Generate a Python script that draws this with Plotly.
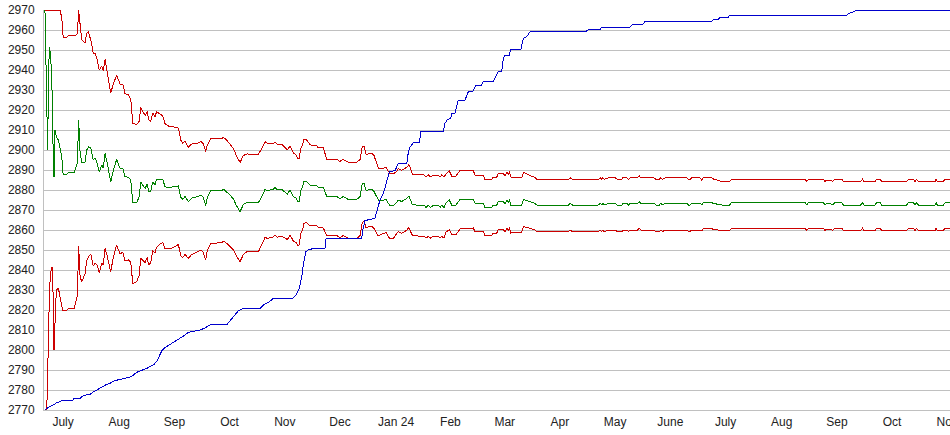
import pandas as pd
import plotly.graph_objects as go

# ---- data (days since 2023-07-01) ----
band_day = [5.5, 5.8, 6.5, 7.0, 7.5, 8.0, 8.7, 9.4, 9.9, 10.5, 11.0, 11.8, 12.9, 13.8, 14.8, 15.3, 15.6,
            17.5, 19.3, 21.6, 23.4, 24.1, 24.9, 25.8, 27.6, 28.6, 29.5, 30.8, 32.2, 33.2, 34.3, 35.5,
            36.9, 37.7, 38.7, 39.9, 41.8, 43.3, 45.1, 47.0, 48.5, 49.7, 51.6, 52.9, 54.0, 56.2, 57.6,
            58.4, 59.8, 60.8, 62.0, 62.8, 63.9, 65.0, 66.3, 67.2, 69.1, 70.6, 71.8, 73.7, 75.5, 77.4,
            79.2, 80.5, 81.6, 82.9, 84.7, 86.6, 90.2, 91.6, 93.0, 94.3, 95.2, 97.0, 103.2, 104.0, 105.9,
            107.7, 109.6, 111.4, 113.3, 115.1, 117.0, 123.4, 125.3, 127.1, 128.4, 129.8, 131.7, 132.6,
            133.9, 136.3, 138.7, 139.4, 140.9, 142.7, 144.2, 145.1, 146.0, 146.8, 147.9, 148.6, 150.1,
            151.9, 153.8, 155.3, 156.5, 159.3, 161.2, 166.7, 168.5, 170.3, 173.1, 177.7, 179.6, 180.8,
            181.8, 182.9, 184.2, 186.0, 187.3, 188.8, 189.7, 191.6, 193.9, 195.2, 196.1, 198.0, 199.8,
            200.7, 202.6, 203.9, 205.4, 206.5, 207.6, 208.5, 212.7, 215.1, 216.0, 217.3, 218.6, 220.1,
            222.8, 223.8, 224.7, 226.0, 227.1, 228.9, 230.2, 232.6, 234.8, 242.2, 243.1, 247.7, 248.6,
            252.3, 252.9, 255.1, 256.0, 258.7, 259.7, 261.0, 261.5, 262.1, 262.8, 268.9, 269.8, 272.6,
            273.5, 276.2, 277.2, 294.7, 295.6, 296.9, 311.2, 312.2, 313.1, 313.7, 314.4, 316.8, 320.5,
            321.7, 324.3, 324.7, 326.9, 327.8, 328.7, 332.8, 333.9, 334.7, 342.0, 343.1, 344.9, 345.7,
            346.8, 348.1, 360.1, 361.0, 361.9, 362.8, 367.4, 368.4, 369.2, 373.9, 374.8, 379.4, 383.6,
            384.9, 425.4, 426.4, 427.3, 435.5, 436.5, 437.4, 439.2, 440.7, 442.0, 445.7, 446.6, 456.2,
            457.1, 458.0, 464.1, 465.0, 466.9, 467.8, 481.6, 482.5, 485.3, 486.2, 487.1, 488.0, 497.3,
            497.8, 498.5, 501.8, 502.8, 505.5]

average = [2970, 2953, 2918, 2900, 2940, 2951.5, 2946.5, 2930, 2905, 2886.5, 2910, 2906.5, 2905, 2901.5,
           2896.5, 2890, 2887.5, 2888, 2889, 2888.5, 2893.5, 2915, 2899, 2894, 2894, 2900, 2901.5, 2901,
           2895, 2896, 2893.5, 2889, 2892.5, 2891, 2898.3, 2893.5, 2884, 2890, 2895.3, 2890.8, 2891,
           2886.7, 2886.3, 2885, 2873.7, 2873.7, 2876.7, 2884, 2882.3, 2880.8, 2883, 2879.2, 2879.2,
           2884, 2882.7, 2885.3, 2885, 2885.3, 2881.7, 2881, 2881.5, 2881.7, 2882, 2876.3, 2875.3,
           2876.7, 2874.2, 2876, 2876.7, 2877.5, 2876.3, 2872.3, 2876.3, 2879.7, 2879.7, 2880.5, 2879.2,
           2877.5, 2875.5, 2872, 2869.2, 2872.7, 2873.7, 2873.7, 2876.7, 2880.3, 2879.7, 2880, 2880.3,
           2881.3, 2880, 2880.3, 2878.7, 2878, 2880, 2876.7, 2876, 2874.2, 2874.2, 2879.5, 2881.7,
           2884.2, 2884.2, 2882.5, 2882, 2882.5, 2881.3, 2881.3, 2876.7, 2876.7, 2875.7, 2876.7, 2875.3,
           2875.3, 2876.7, 2883, 2883.3, 2879.7, 2880, 2880.3, 2879.2, 2876.5, 2875, 2874.7, 2875.3,
           2873.3, 2872.3, 2872.3, 2873.7, 2875, 2874.2, 2875, 2875.7, 2877, 2875, 2872.7, 2872.3,
           2872.3, 2871.3, 2872.3, 2871.3, 2872.3, 2872.3, 2871.3, 2872.3, 2871.3, 2873.7, 2875, 2872.5,
           2872.5, 2875.3, 2875.3, 2873.3, 2873.3, 2871.3, 2871.3, 2872.5, 2872.5, 2874.2, 2874.2,
           2873.3, 2875, 2873.7, 2875.3, 2872.5, 2872.5, 2875.3, 2874.7, 2874.2, 2873.3, 2872.5, 2872.5,
           2873.3, 2872.5, 2872.5, 2873.3, 2872.5, 2873.3, 2872.5, 2873.3, 2873.3, 2872.5, 2872.5,
           2873.3, 2873.3, 2872.5, 2873.3, 2873.3, 2874.2, 2873.3, 2873.3, 2872.5, 2872.5, 2873.3,
           2872.5, 2873.3, 2873.3, 2872.5, 2872.5, 2873.3, 2873.3, 2872.5, 2873.7, 2873.7, 2873.3,
           2872.5, 2872.5, 2873.7, 2873.7, 2872.5, 2873.7, 2873.7, 2872.5, 2873.3, 2873.3, 2872.5,
           2873.7, 2873.7, 2872.5, 2872.5, 2873.7, 2872.5, 2872.5, 2873.7, 2873.7, 2872.5, 2872.5,
           2873.7, 2873.7, 2872.5, 2873.7, 2872.5, 2872.5, 2873.7, 2872.5, 2872.5, 2873.7, 2873.7]

upper = [2970, 2970, 2970, 2970, 2970, 2970, 2970, 2970, 2970, 2970, 2970, 2970, 2970, 2970, 2966, 2957,
         2956, 2956.5, 2957.5, 2957, 2958, 2970, 2961, 2955, 2953.5, 2958.5, 2959, 2955, 2948.5, 2948.5,
         2945.5, 2940, 2942, 2939.5, 2945.3, 2939, 2928.5, 2933, 2937.5, 2933, 2933, 2928.3, 2927.5,
         2925.5, 2913.4, 2912.7, 2914.5, 2921.2, 2919, 2917.3, 2919.2, 2915, 2914.2, 2918.5, 2916.7,
         2919.2, 2918, 2917, 2913.2, 2912, 2912, 2911.2, 2911, 2905, 2903.5, 2904.4, 2901.4, 2903,
         2903.5, 2904.3, 2903, 2899.2, 2902.5, 2905.7, 2905.5, 2906.3, 2905, 2903, 2900.7, 2896.9,
         2893.8, 2897.2, 2898, 2897.9, 2900.7, 2904.1, 2903.3, 2903.4, 2903.3, 2904.1, 2902.7, 2902.8,
         2901, 2900.2, 2902, 2898.5, 2897.6, 2895.7, 2895.6, 2900.8, 2902.8, 2905.2, 2905, 2902.8, 2902,
         2902.4, 2901.1, 2901, 2895.3, 2895.3, 2894.3, 2895.3, 2893.9, 2893.9, 2895.3, 2901.5, 2901.8,
         2897.7, 2898, 2898.3, 2897.2, 2893, 2891, 2890.7, 2891.3, 2889.3, 2888.3, 2888.1, 2889.3,
         2890.6, 2889.8, 2890.6, 2891.3, 2892.6, 2890.5, 2887.9, 2887.5, 2887.5, 2886.5, 2887.5, 2886.5,
         2887.5, 2887.5, 2886.5, 2887.5, 2886.5, 2888.2, 2889.5, 2887, 2887, 2889.8, 2889.5, 2887.5,
         2887.3, 2885.3, 2885.3, 2886.5, 2886.5, 2888.2, 2888.2, 2887.3, 2889, 2887.7, 2889.3, 2886.5,
         2886, 2888.8, 2887.7, 2887.2, 2886.2, 2885.3, 2885.3, 2886.1, 2885.3, 2885.3, 2886.1, 2885.3,
         2886.1, 2885.3, 2886.1, 2886.1, 2885.3, 2885.3, 2886.1, 2886.1, 2885.3, 2886.1, 2886.1, 2887,
         2886.1, 2886.1, 2885.3, 2885.3, 2886.1, 2885.3, 2886.1, 2886.1, 2885.3, 2885.3, 2886.1, 2886.1,
         2884.9, 2886.1, 2886.1, 2885.5, 2884.2, 2884.2, 2885.4, 2885.4, 2884.2, 2885.4, 2885.4, 2884.2,
         2885, 2885, 2884.2, 2885.4, 2885.4, 2884.2, 2884.2, 2885.4, 2884.2, 2884.2, 2885.4, 2885.4,
         2884.2, 2884.2, 2885.4, 2885.4, 2884.2, 2885.4, 2884.2, 2884.2, 2885.4, 2884.2, 2884.2, 2885.4,
         2885.4]

lower = [2770, 2770, 2770, 2788, 2814, 2830, 2839, 2841.7, 2831.7, 2800, 2812.5, 2830, 2831, 2826, 2822,
         2820, 2819.5, 2820, 2821, 2820.5, 2827, 2852, 2837, 2834, 2838, 2844.5, 2846.5, 2848, 2842,
         2843.5, 2842.5, 2838.5, 2843.5, 2842.5, 2850.8, 2847, 2839, 2846.5, 2852.5, 2848, 2849, 2844.7,
         2845, 2844, 2833.3, 2834.2, 2837.5, 2846, 2844.5, 2843.8, 2846.2, 2842.5, 2843.7, 2849.5,
         2848.7, 2851.3, 2853, 2853.8, 2850.7, 2850.5, 2851, 2851.7, 2852.8, 2847.2, 2846.2, 2847.9,
         2845.8, 2847.8, 2849.2, 2850, 2848.8, 2845, 2849.8, 2853.2, 2853.7, 2854.5, 2853.3, 2851.8,
         2850, 2846.7, 2844.2, 2847.7, 2849.1, 2849.1, 2852.5, 2856.3, 2855.8, 2856.3, 2856.6, 2857.6,
         2856.4, 2857, 2855.7, 2855.2, 2857.5, 2854.5, 2853.8, 2852.2, 2852.5, 2858, 2860.5, 2863.4,
         2863.6, 2862.2, 2862, 2862.5, 2861.3, 2861, 2857.2, 2857.2, 2856.2, 2857.2, 2855.8, 2855.8,
         2857.2, 2863.5, 2864.5, 2861.2, 2861.5, 2861.8, 2860.7, 2858.5, 2857, 2858, 2858.7, 2856.7,
         2855.7, 2855.9, 2857.9, 2859.2, 2858.4, 2859.2, 2859.9, 2861.2, 2859.3, 2857.3, 2856.9, 2856.9,
         2855.9, 2856.9, 2855.9, 2856.9, 2856.9, 2855.9, 2856.9, 2855.9, 2858.9, 2860.2, 2857.7, 2857.7,
         2860.5, 2861, 2859, 2859.3, 2857.3, 2857.3, 2858.5, 2858.5, 2860.2, 2860.2, 2859.3, 2861,
         2859.7, 2861.3, 2858.5, 2858.9, 2861.7, 2861.3, 2860.8, 2860, 2859.2, 2859.2, 2860, 2859.2,
         2859.2, 2860, 2859.2, 2860, 2859.2, 2860, 2860, 2859.2, 2859.2, 2860, 2860, 2859.2, 2860, 2860,
         2860.9, 2860, 2860, 2859.2, 2859.2, 2860, 2859.2, 2860, 2860, 2859.2, 2859.2, 2860, 2860,
         2859.5, 2860.7, 2860.7, 2860.3, 2859.7, 2859.7, 2860.9, 2860.9, 2859.7, 2860.9, 2860.9, 2859.7,
         2860.5, 2860.5, 2859.7, 2860.9, 2860.9, 2859.7, 2859.7, 2860.9, 2859.7, 2859.7, 2860.9, 2860.9,
         2859.7, 2859.7, 2860.9, 2860.9, 2859.7, 2860.9, 2859.7, 2859.7, 2860.9, 2859.7, 2859.7, 2860.9,
         2860.9]

rating_day = [5.5, 7.9, 10.1, 12.0, 13.8, 14.8, 20.8, 21.5, 24.9, 25.8, 28.2, 30.4, 32.2, 34.1, 35.9,
              37.7, 39.6, 41.4, 42.4, 44.2, 47.0, 50.7, 52.5, 54.0, 55.2, 57.1, 59.8, 61.7, 63.5, 65.4,
              67.2, 68.7, 70.0, 71.8, 73.6, 75.5, 77.3, 79.2, 81.1, 82.9, 84.7, 87.5, 91.2, 93.9, 97.6,
              106.3, 107.7, 110.5, 112.2, 115.1, 124.3, 126.2, 128.9, 131.7, 142.4, 144.6, 146.0, 147.4,
              148.3, 149.7, 151.0, 153.8, 160.2, 160.8, 180.5, 181.1, 182.3, 185.1, 187.8, 188.8, 189.7,
              190.6, 192.5, 194.3, 195.8, 198.9, 200.7, 205.4, 206.3, 207.2, 209.0, 212.4, 213.1, 225.6,
              226.5, 227.6, 229.7, 230.2, 232.0, 233.8, 237.6, 239.4, 241.9, 243.6, 246.8, 247.7, 253.2,
              255.1, 256.0, 257.9, 258.7, 259.7, 262.1, 262.8, 268.4, 269.8, 271.7, 273.5, 275.0, 304.8,
              305.7, 312.2, 313.1, 328.7, 329.6, 336.1, 337.0, 373.9, 374.8, 377.5, 378.5, 383.1, 383.6,
              448.4, 449.3, 451.2, 453.0, 454.3, 505.5]

rating = [2770, 2771.7, 2772.5, 2773.7, 2774.2, 2774.8, 2774.8, 2775.8, 2775.8, 2776.7, 2777.5, 2777.8,
          2779, 2780, 2781, 2781.7, 2782.8, 2783.3, 2784, 2784.7, 2785.3, 2785.8, 2786.5, 2787.2, 2788.3,
          2789.2, 2790, 2790.8, 2791.7, 2792.5, 2794.2, 2796.7, 2799.5, 2801.2, 2802.2, 2803.3, 2804.2,
          2805.2, 2806.2, 2807.5, 2808.8, 2809.2, 2810, 2811, 2813, 2813, 2814.5, 2818, 2819.5, 2820.8,
          2820.8, 2822.5, 2823.8, 2825.8, 2825.8, 2828, 2830.8, 2836.7, 2843.3, 2849.2, 2850, 2850.8,
          2850.8, 2855.8, 2855.8, 2860, 2864.7, 2865.3, 2865.8, 2869.2, 2871.7, 2875, 2878.3, 2885,
          2889.2, 2889.7, 2893.3, 2893.3, 2899.2, 2901.5, 2903.7, 2903.7, 2909.2, 2909.2, 2913.3, 2915,
          2915.8, 2918.3, 2918.3, 2925, 2925, 2929.2, 2929.2, 2932.5, 2932.5, 2934.5, 2934.5, 2937.5,
          2939.5, 2939.5, 2945.8, 2947.5, 2947.5, 2950.3, 2950.3, 2955.8, 2956.7, 2959.2, 2959.5, 2959.5,
          2960.3, 2960.3, 2961.3, 2961.3, 2962.5, 2963, 2964.3, 2964.3, 2965.3, 2965.3, 2966.3, 2966.3,
          2967.3, 2967.3, 2968.3, 2968.8, 2969.7, 2970, 2970]

month_labels = ["July", "Aug", "Sep", "Oct", "Nov", "Dec", "Jan 24", "Feb", "Mar", "Apr", "May",
                "June", "July", "Aug", "Sep", "Oct", "Nov"]
y_ticks = list(range(2770, 2971, 10))

# ---- build ----
t0 = pd.Timestamp("2023-07-01")
band_x = t0 + pd.to_timedelta(band_day, unit="D")
rating_x = t0 + pd.to_timedelta(rating_day, unit="D")

month_starts = pd.date_range("2023-07-01", periods=len(month_labels), freq="MS")
tick_vals = [m + pd.Timedelta(days=m.days_in_month / 2) for m in month_starts]

RED = "#cc0000"
GREEN = "#008000"
BLUE = "#0000cc"

fig = go.Figure()
fig.add_trace(go.Scatter(x=band_x, y=upper, mode="lines", line=dict(color=RED, width=1), hoverinfo="skip"))
fig.add_trace(go.Scatter(x=band_x, y=lower, mode="lines", line=dict(color=RED, width=1), hoverinfo="skip"))
fig.add_trace(go.Scatter(x=band_x, y=average, mode="lines", line=dict(color=GREEN, width=1), hoverinfo="skip"))
fig.add_trace(go.Scatter(x=rating_x, y=rating, mode="lines", line=dict(color=BLUE, width=1), hoverinfo="skip"))

font = dict(family="Liberation Sans, Arial, sans-serif", size=12, color="#222222")

fig.update_layout(
    width=950, height=435,
    margin=dict(l=44, r=0, t=10, b=25, autoexpand=False),
    paper_bgcolor="white", plot_bgcolor="white",
    showlegend=False,
    font=font,
    xaxis=dict(
        type="date",
        automargin=False,
        range=[t0 + pd.Timedelta(days=4.97), t0 + pd.Timedelta(days=505.5)],
        tickmode="array", tickvals=tick_vals, ticktext=month_labels,
        showgrid=False, zeroline=False,
        showline=True, linecolor="#c0c0c0", linewidth=1,
        ticks="outside", ticklen=1, tickcolor="rgba(0,0,0,0)",
        ticklabeloverflow="allow",
        tickfont=font,
    ),
    yaxis=dict(
        automargin=False,
        range=[2770, 2970],
        tickmode="array", tickvals=y_ticks, ticktext=[str(v) for v in y_ticks],
        showgrid=True, gridcolor="#c0c0c0", gridwidth=1,
        zeroline=False,
        showline=True, linecolor="#c0c0c0", linewidth=1,
        ticks="outside", ticklen=6, tickcolor="rgba(0,0,0,0)",
        tickfont=font,
    ),
)

post = """
document.body.style.margin='0px';
document.querySelectorAll('.scatterlayer path.js-line').forEach(function(p){p.style.shapeRendering='crispEdges';});
"""

fig.write_html("out.html", config={"displayModeBar": False, "responsive": False},
               post_script=post)
